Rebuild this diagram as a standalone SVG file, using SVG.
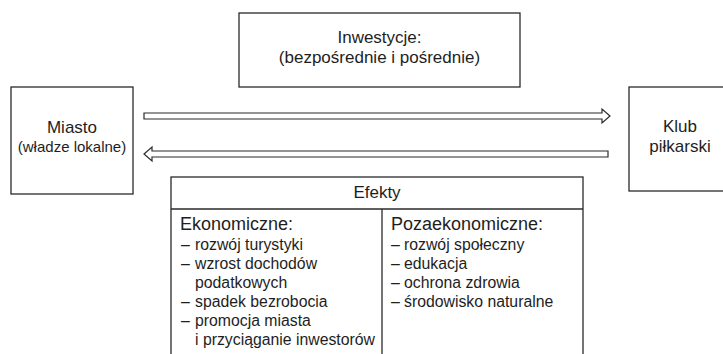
<svg xmlns="http://www.w3.org/2000/svg" width="723" height="354" viewBox="0 0 723 354">
<style>
.box{fill:#fff;stroke:#2a2a2a;stroke-width:1.3}
.t{font-family:"Liberation Sans",Arial,sans-serif;fill:#1e1e1e}
.big{font-size:17px}
.mid{font-size:15px}
.hd{font-size:18px}
.li{font-size:15.8px}
.arr{fill:#fff;stroke:#2a2a2a;stroke-width:1.2;stroke-linejoin:miter}
</style>
<rect width="723" height="354" fill="#fff"/>
<g id="inwestycje">
<rect class="box" x="239" y="13" width="281" height="74"/>
<text class="t big" x="379.5" y="43" text-anchor="middle">Inwestycje:</text>
<text class="t big" x="379.5" y="63" text-anchor="middle">(bezpośrednie i pośrednie)</text>
</g>
<g id="miasto">
<rect class="box" x="11" y="87" width="122" height="107"/>
<text class="t big" x="72" y="133" text-anchor="middle">Miasto</text>
<text class="t mid" x="72" y="152" text-anchor="middle">(władze lokalne)</text>
</g>
<g id="klub">
<rect class="box" x="629" y="87" width="110" height="104"/>
<text class="t big" x="680" y="132" text-anchor="middle">Klub</text>
<text class="t big" x="680" y="152" text-anchor="middle">piłkarski</text>
</g>
<g id="connectors">
<polygon class="arr" points="144,113 602,113 602,109 610,116 602,123 602,119 144,119"/>
<polygon class="arr" points="608,151 152,151 152,147 144,154 152,161 152,157 608,157"/>
</g>
<g id="efekty">
<rect class="box" x="171" y="177" width="412" height="190"/>
<line class="box" x1="171" y1="209" x2="583" y2="209"/>
<line class="box" x1="382" y1="209" x2="382" y2="360"/>
<text class="t big" x="377" y="198" text-anchor="middle">Efekty</text>
<text class="t hd" x="180" y="230">Ekonomiczne:</text>
<g class="t li">
<text x="181" y="250">–<tspan x="195">rozwój turystyki</tspan></text>
<text x="181" y="269">–<tspan x="195">wzrost dochodów</tspan></text>
<text x="195" y="288">podatkowych</text>
<text x="181" y="307">–<tspan x="195">spadek bezrobocia</tspan></text>
<text x="181" y="326">–<tspan x="195">promocja miasta</tspan></text>
<text x="195" y="345">i przyciąganie inwestorów</text>
</g>
<text class="t hd" x="391" y="230">Pozaekonomiczne:</text>
<g class="t li">
<text x="391" y="250">–<tspan x="404">rozwój społeczny</tspan></text>
<text x="391" y="269">–<tspan x="404">edukacja</tspan></text>
<text x="391" y="288">–<tspan x="404">ochrona zdrowia</tspan></text>
<text x="391" y="307">–<tspan x="404">środowisko naturalne</tspan></text>
</g>
</g>
</svg>
